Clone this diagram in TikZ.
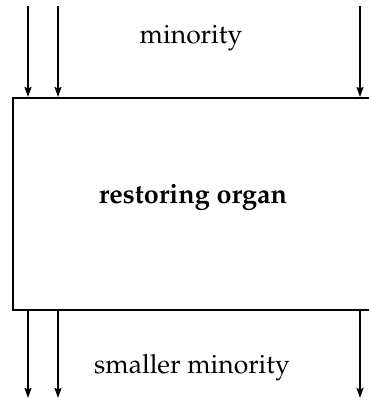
\documentclass[tikz,border=0pt]{standalone}
\usepackage[T1]{fontenc}
\usepackage{mathpazo}
\usetikzlibrary{arrows.meta}
\begin{document}
\begin{tikzpicture}[x=1pt,y=-1pt,
  wire/.style={line width=1.6pt,-{Stealth[length=10pt,width=7pt,inset=1.5pt]}},
  organ/.style={draw,line width=1.6pt,minimum width=360pt,minimum height=212pt,inner sep=0pt,anchor=north west},
  lab/.style={font=\fontsize{26.5}{30}\selectfont,inner sep=0pt,anchor=base}]
\useasboundingbox (0,0) rectangle (368,402);
\node[organ] (box) at (12,97) {};
\node[lab,font=\fontsize{27}{30}\selectfont\bfseries] (mid) at (193,203) {restoring organ};
\node[lab] (top) at (191,43) {minority};
\node[lab] (bot) at (192,373) {smaller minority};
\coordinate (t1) at (28,6);
\coordinate (t2) at (58,6);
\coordinate (t3) at (360,6);
\coordinate (b1) at (28,398);
\coordinate (b2) at (58,398);
\coordinate (b3) at (360,398);
\draw[wire] (t1) -- (t1 |- box.north);
\draw[wire] (t2) -- (t2 |- box.north);
\draw[wire] (t3) -- (t3 |- box.north);
\draw[wire] (b1 |- box.south) -- (b1);
\draw[wire] (b2 |- box.south) -- (b2);
\draw[wire] (b3 |- box.south) -- (b3);
\end{tikzpicture}
\end{document}
